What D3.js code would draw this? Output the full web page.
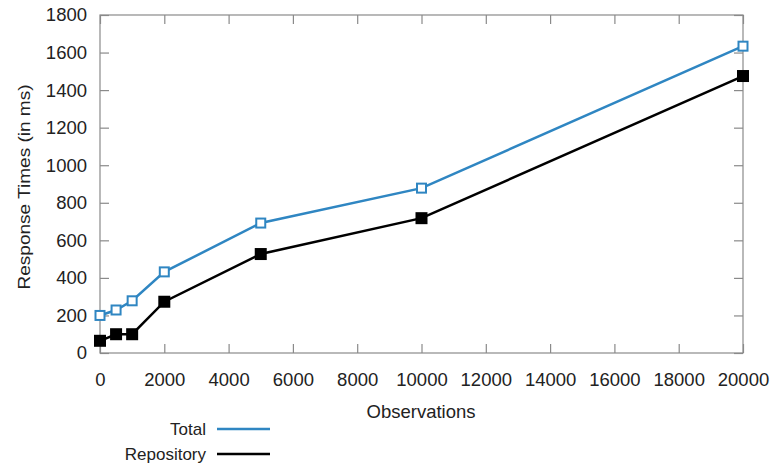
<!DOCTYPE html>
<html>
<head>
<meta charset="utf-8">
<script src="https://cdn.jsdelivr.net/npm/d3@7"></script>
<style>
  body { margin: 0; background: #fff; }
  text { font-family: "Liberation Sans", Arial, sans-serif; fill: #222; }
</style>
</head>
<body>
<div id="chart"></div>
<script>
// data
const observations = [0, 500, 1000, 2000, 5000, 10000, 20000];
const totalTimes = [200, 229, 278, 432, 692, 878, 1634];
const repositoryTimes = [65, 100, 100, 273, 527, 718, 1475];
const seriesNames = ["Total", "Repository"];
const seriesColors = ["#2f86c2", "#000000"];
const xTicks = d3.range(0, 20001, 2000);
const yTicks = d3.range(0, 1801, 200);

const width = 772, height = 467;
const margin = {top: 15, right: 29, bottom: 114, left: 100};
const axisColor = "#8a8a8a";

const svg = d3.select("#chart").append("svg")
    .attr("width", width)
    .attr("height", height);

const x = d3.scaleLinear().domain([0, 20000]).range([margin.left, width - margin.right]);
const y = d3.scaleLinear().domain([0, 1800]).range([height - margin.bottom, margin.top]);

// frame + inward ticks
const axes = svg.append("g");
axes.append("rect")
    .attr("x", x(0)).attr("y", y(1800))
    .attr("width", x(20000) - x(0)).attr("height", y(0) - y(1800))
    .attr("fill", "none").attr("stroke", axisColor).attr("stroke-width", 1.2);

function styleAxis(g) {
    g.select(".domain").remove();
    g.selectAll(".tick line").attr("stroke", axisColor).attr("stroke-width", 1.2);
}

axes.append("g")
    .attr("transform", `translate(0,${y(0)})`)
    .call(d3.axisBottom(x).tickValues(xTicks).tickSizeInner(-9).tickSizeOuter(0).tickPadding(20).tickFormat(d3.format("d")))
    .call(styleAxis)
    .attr("font-size", 18.5);

axes.append("g")
    .attr("transform", `translate(0,${y(1800)})`)
    .call(d3.axisTop(x).tickValues(xTicks).tickSizeInner(-9).tickSizeOuter(0).tickFormat(""))
    .call(styleAxis);

axes.append("g")
    .attr("transform", `translate(${x(0)},0)`)
    .call(d3.axisLeft(y).tickValues(yTicks).tickSizeInner(-9).tickSizeOuter(0).tickPadding(13).tickFormat(d3.format("d")))
    .call(styleAxis)
    .attr("font-size", 18.5);

axes.append("g")
    .attr("transform", `translate(${x(20000)},0)`)
    .call(d3.axisRight(y).tickValues(yTicks).tickSizeInner(-9).tickSizeOuter(0).tickFormat(""))
    .call(styleAxis);

axes.selectAll(".tick text").attr("fill", "#222").attr("font-family", "Liberation Sans, Arial, sans-serif");

// axis titles
svg.append("text")
    .attr("x", 421)
    .attr("y", 418)
    .attr("text-anchor", "middle")
    .attr("font-size", 18.5)
    .text("Observations");

svg.append("text")
    .attr("transform", "translate(30,187) rotate(-90)")
    .attr("text-anchor", "middle")
    .attr("font-size", 17)
    .attr("textLength", 205)
    .attr("lengthAdjust", "spacingAndGlyphs")
    .text("Response Times (in ms)");

const line = d3.line()
    .x((d, i) => x(observations[i]))
    .y(d => y(d));

// Total line, open squares
svg.append("path")
    .datum(totalTimes)
    .attr("fill", "none")
    .attr("stroke", seriesColors[0])
    .attr("stroke-width", 2.5)
    .attr("d", line);

svg.selectAll(".totalpt")
    .data(totalTimes)
    .enter()
    .append("rect")
    .attr("class", "totalpt")
    .attr("x", (d, i) => x(observations[i]) - 4.5)
    .attr("y", d => y(d) - 4.5)
    .attr("width", 9).attr("height", 9)
    .attr("fill", "#fff")
    .attr("stroke", seriesColors[0])
    .attr("stroke-width", 2);

// Repository line, filled squares
svg.append("path")
    .datum(repositoryTimes)
    .attr("fill", "none")
    .attr("stroke", seriesColors[1])
    .attr("stroke-width", 2.5)
    .attr("d", line);

svg.selectAll(".repopt")
    .data(repositoryTimes)
    .enter()
    .append("rect")
    .attr("class", "repopt")
    .attr("x", (d, i) => x(observations[i]) - 6)
    .attr("y", d => y(d) - 6)
    .attr("width", 12).attr("height", 12)
    .attr("fill", seriesColors[1]);

// legend
const legend = svg.append("g");
seriesNames.forEach(function (name, i) {
    const ly = 429 + i * 25;
    legend.append("text")
        .attr("x", 206).attr("y", ly)
        .attr("dy", "0.35em")
        .attr("text-anchor", "end")
        .attr("font-size", 17)
        .text(name);
    legend.append("line")
        .attr("x1", 217).attr("x2", 270)
        .attr("y1", ly).attr("y2", ly)
        .attr("stroke", seriesColors[i])
        .attr("stroke-width", 2.5);
});
</script>
</body>
</html>
